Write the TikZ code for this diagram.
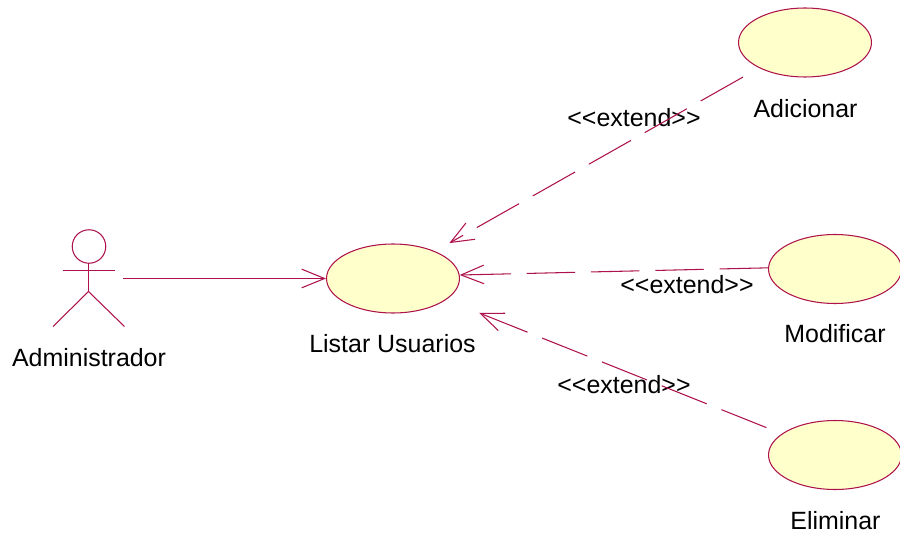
\documentclass[tikz,border=0pt]{standalone}
\usepackage{fontspec}
\setmainfont{Liberation Sans}
\usetikzlibrary{arrows.meta,shapes.geometric}
\definecolor{rosered}{RGB}{173,18,76}
\definecolor{rosefill}{RGB}{255,255,204}
\newcommand{\extendlabel}{<{}<extend>{}>}
\tikzset{
  usecase/.style={ellipse, draw=rosered, fill=rosefill, line width=0.6pt, inner sep=0pt, minimum width=2.66cm, minimum height=1.38cm},
  tag/.style={inner sep=0pt, font=\fontsize{14.2pt}{17pt}\selectfont, text=black},
  limb/.style={draw=rosered, line width=0.6pt},
  assoc/.style={draw=rosered, line width=0.6pt, -{Straight Barb[length=13pt,width=10.6pt]}},
  extendline/.style={assoc, dash pattern=on 27.6pt off 9pt}
}
\begin{document}
\begin{tikzpicture}[x=0.02cm,y=-0.02cm]
    \useasboundingbox (0,0) rectangle (900,537);
    \node[usecase] (listar) at (393,278.5){};
    \node[usecase] (adicionar) at (805,42.5){};
    \node[usecase] (modificar) at (835,269){};
    \node[usecase] (eliminar) at (835,455){};
    \node[tag] (listarname) at (392.5,344){Listar Usuarios};
    \node[tag] (adicionarname) at (805.5,109){Adicionar};
    \node[tag] (modificarname) at (835,334){Modificar};
    \node[tag] (eliminarname) at (835.5,521){Eliminar};
    \node[tag] (actorname) at (89,358){Administrador};
    \node[tag] (extendup) at (634,118){\extendlabel};
    \node[tag] (extendmid) at (687,284.5){\extendlabel};
    \node[tag] (extenddown) at (624,384.5){\extendlabel};
    \node[circle, limb, inner sep=0pt, minimum size=0.67cm] (head) at (89,246.5){};
    \coordinate (neck) at (88.5,263);
    \coordinate (hip) at (88.5,291.5);
    \coordinate (handleft) at (62.5,270.5);
    \coordinate (handright) at (114.5,270.5);
    \coordinate (footleft) at (53,326.5);
    \coordinate (footright) at (124.5,326.5);
    \coordinate (actor) at (123,278.5);
    \draw [limb] (neck) -- (hip);
    \draw [limb] (handleft) -- (handright);
    \draw [limb] (footleft) -- (hip) -- (footright);
    \draw [assoc] (actor) -- (listar);
    \draw [extendline, shorten <=0.37cm, shorten >=0.33cm] (adicionar.209) -- (listar.33);
    \draw [extendline] (modificar.179) -- (listar.3);
    \draw [extendline, shorten <=0.33cm, shorten >=0.71cm] (eliminar) -- (listar);
\end{tikzpicture}
\end{document}
